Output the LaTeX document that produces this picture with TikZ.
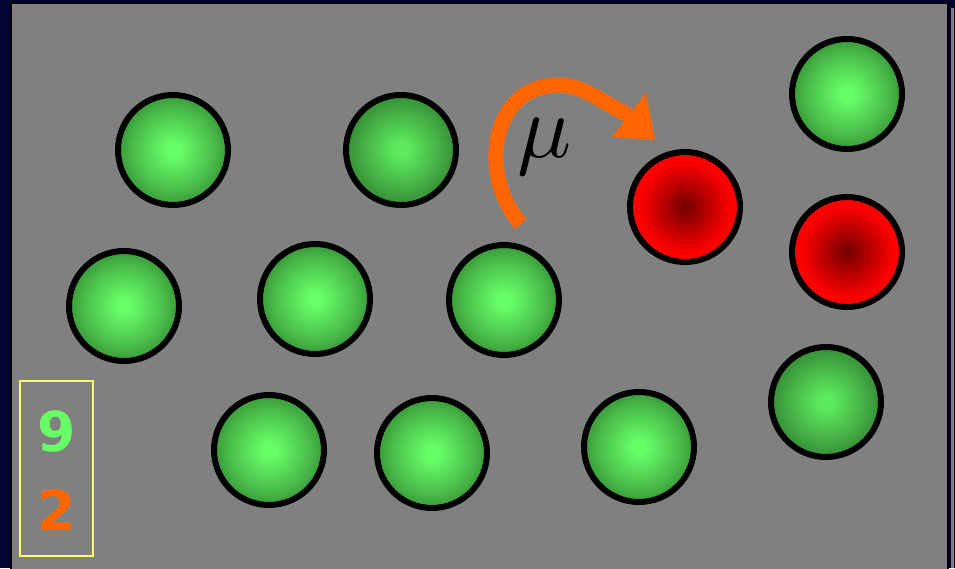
\documentclass[tikz,border=0pt]{standalone}
\usepackage{fontspec}
\newfontfamily\digitfont{DejaVu Sans}
\definecolor{navy}{RGB}{3,3,51}
\definecolor{bggray}{RGB}{128,128,128}
\definecolor{lightgreen}{RGB}{102,255,102}
\definecolor{midgreen}{RGB}{75,190,75}
\definecolor{darkgreen}{RGB}{32,100,32}
\definecolor{lightgreenB}{RGB}{92,235,92}
\definecolor{midgreenB}{RGB}{68,172,68}
\definecolor{darkgreenB}{RGB}{32,96,32}
\definecolor{darkred}{RGB}{115,0,0}
\definecolor{brightred}{RGB}{255,0,0}
\definecolor{orangec}{RGB}{255,102,0}
\definecolor{yellowc}{RGB}{255,255,102}
\pgfdeclareradialshading{greenball}{\pgfpoint{0bp}{0bp}}{color(0bp)=(lightgreen); color(3bp)=(lightgreen); color(18bp)=(midgreen); color(35bp)=(darkgreen); color(50bp)=(darkgreen)}
\pgfdeclareradialshading{greenballB}{\pgfpoint{0bp}{0bp}}{color(0bp)=(lightgreenB); color(3bp)=(lightgreenB); color(18bp)=(midgreenB); color(35bp)=(darkgreenB); color(50bp)=(darkgreenB)}
\pgfdeclareradialshading{redball}{\pgfpoint{0bp}{0bp}}{color(0bp)=(darkred); color(21bp)=(brightred); color(50bp)=(brightred)}
\tikzset{
  ball/.style={circle, draw=black, line width=6pt, minimum size=110pt, inner sep=0pt, shading=greenball},
  ballB/.style={ball, shading=greenballB},
  redb/.style={ball, shading=redball},
}
\begin{document}
\begin{tikzpicture}[x=1pt,y=1pt]
\useasboundingbox (0,0) rectangle (955,568);
\fill[navy] (0,0) rectangle (955,568);
\fill[bggray] (950.5,0) rectangle (953.5,560);
\filldraw[fill=bggray, draw=black, line width=1.5pt] (11,-2) rectangle (948,565);
% balls
\node[ball]  (b1)  at (173,418) {};
\node[ballB] (b2)  at (401,418) {};
\node[ball]  (b3)  at (847,474) {};
\node[ball]  (b4)  at (124,262) {};
\node[ball]  (b5)  at (315,269) {};
\node[ball]  (b6)  at (504,268) {};
\node[redb]  (r1)  at (685,361) {};
\node[redb]  (r2)  at (847,316) {};
\node[ball]  (b9)  at (269,118) {};
\node[ball]  (b10) at (432,115) {};
\node[ball]  (b11) at (639,121) {};
\node[ballB] (b12) at (826,166) {};
% arrow
\coordinate (as) at (521,344);
\coordinate (atop) at (559,483);
\coordinate (ae) at (629,453);
\draw[orangec, line width=15pt] (as) .. controls (478,392) and (490,483) .. (atop)
  .. controls (585,483) and (605,463) .. (ae);
\fill[orangec] (612,431) -- (655,428) -- (646,475) -- cycle;
\node (mu) at (545,421) {\scalebox{9}{$\mu$}};
% counter box
\draw[yellowc, line width=2pt] (20,12) rectangle (93,187);
\node[text=lightgreen, font=\digitfont\bfseries\fontsize{55}{55}\selectfont] (n9) at (57,136) {9};
\node[text=orangec, font=\digitfont\bfseries\fontsize{55}{55}\selectfont] (n2) at (57,58) {2};
\end{tikzpicture}
\end{document}
